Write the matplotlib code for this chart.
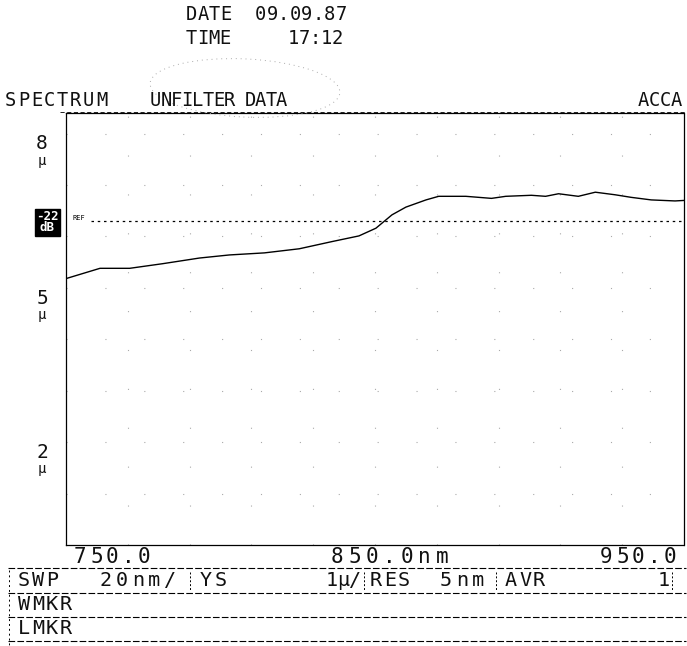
import numpy as np
import matplotlib.pyplot as plt
from matplotlib.patches import Ellipse

# spectrum trace
wavelength_nm = [750.0, 761.0, 770.6, 781.3, 793.2, 802.9, 814.2, 825.5, 836.1, 844.8,
                 850.3, 855.5, 860.0, 866.5, 870.6, 879.4, 887.7, 892.3, 900.6, 905.2,
                 909.4, 915.8, 921.3, 927.7, 932.9, 939.4, 947.1, 950.0]
level_u = [5.18, 5.38, 5.38, 5.47, 5.58, 5.64, 5.68, 5.76, 5.90, 6.01,
           6.16, 6.42, 6.57, 6.71, 6.78, 6.78, 6.74, 6.78, 6.80, 6.78,
           6.83, 6.78, 6.86, 6.81, 6.76, 6.71, 6.69, 6.70]
ref_level = 6.3
y_labels = [8, 5, 2]
x_labels = ["750.0", "850.0nm", "950.0"]

W, H = 687, 646
MONO = ["DejaVu Sans Mono"]


def fx(px):
    return px / W


def fy(py):
    return 1 - py / H


def spaced(px, py, s, pitch=11.0, size=13.5):
    # printer style: one glyph per cell with a fixed pitch in pixels
    for i, ch in enumerate(s):
        if ch != " ":
            fig.text(fx(px + i * pitch), fy(py), ch, ha="left", va="center",
                     family=MONO, fontsize=size, color="#111111")


def hline(x0, x1, py, ls=(0, (6, 2)), lw=0.8):
    fig.add_artist(plt.Line2D([fx(x0), fx(x1)], [fy(py), fy(py)], color="black",
                              lw=lw, ls=ls, transform=fig.transFigure))


def vline(px, y0, y1, ls=(0, (2, 2)), lw=0.7):
    fig.add_artist(plt.Line2D([fx(px), fx(px)], [fy(y0), fy(y1)], color="black",
                              lw=lw, ls=ls, transform=fig.transFigure))


fig = plt.figure(figsize=(W / 100, H / 100), dpi=100)
ax = fig.add_axes([fx(66), fy(545), fx(684) - fx(66), fy(113) - fy(545)])

ax.plot(wavelength_nm, level_u, color="black", lw=1.0)
ax.axhline(ref_level, xmin=0.04, color="black", lw=0.9, ls=(0, (2, 3)))
ax.text(752, ref_level + 0.05, "REF", fontsize=5, family=MONO, va="center")

ax.set_xlim(750, 950)
ax.set_ylim(0, 8.4)
ax.set_xticks(np.arange(770, 950, 20))
ax.set_yticks(np.arange(1, 9, 1))
ax.grid(True, color="#aaaaaa", lw=0.8, ls=(0, (1, 34)))
ax.tick_params(length=0, labelbottom=False, labelleft=False)
for sp in ax.spines.values():
    sp.set_linewidth(0.9)
    sp.set_linestyle((0, (8, 1)))

# y scale labels
for v in y_labels:
    py = 545 - v * 51.4
    fig.text(fx(42), fy(py + 10), str(v), ha="center", va="center",
             family=MONO, fontsize=14, color="#111111")
    fig.text(fx(42), fy(py + 27), "µ", ha="center", va="center",
             family=MONO, fontsize=10, color="#111111")

# reference level box
fig.text(fx(47), fy(222), "-22\ndB", ha="center", va="center", family=MONO,
         fontsize=9, fontweight="bold", color="white", linespacing=0.85,
         bbox=dict(boxstyle="square,pad=0.1", fc="black", ec="black"))

# header
spaced(186, 15, "DATE", 11.5)
spaced(255, 15, "09.09.87", 11.5)
spaced(186, 38, "TIME", 11.0)
spaced(288, 38, "17:12", 11.0)
spaced(5, 101, "SPECTRUM", 13.0)
spaced(150, 101, "UNFILTER DATA", 10.5)
spaced(638, 101, "ACCA", 11.0)
hline(60, 686, 112, ls=(0, (5, 3)), lw=0.6)
fig.add_artist(Ellipse((fx(245), fy(88)), fx(190), 0.09, angle=-3,
                       transform=fig.transFigure, fill=False, ec="#aaaaaa",
                       lw=0.7, ls=(0, (1, 4))))

# x scale labels
spaced(74, 557, x_labels[0], 16.0, 15)
spaced(331, 557, x_labels[1], 17.5, 15)
spaced(600, 557, x_labels[2], 16.0, 15)

# settings block
spaced(18, 581, "SWP", 14.0, 14.5)
spaced(100, 581, "20nm/", 16.0, 14.5)
spaced(200, 581, "YS", 15.0, 14.5)
spaced(326, 581, "1µ/", 11.5, 14.5)
spaced(370, 581, "RES", 14.0, 14.5)
spaced(440, 581, "5nm", 16.0, 14.5)
spaced(505, 581, "AVR", 14.0, 14.5)
spaced(658, 581, "1", 14.0, 14.5)
spaced(18, 605, "WMKR", 14.0, 14.5)
spaced(18, 629, "LMKR", 14.0, 14.5)
for py in [568, 593, 617, 641]:
    hline(8, 686, py)
vline(9, 570, 645, ls=(0, (2, 3)))
for px in [190, 364, 496, 672]:
    vline(px, 572, 590)

fig.savefig("out.png", dpi=100, facecolor="white")
